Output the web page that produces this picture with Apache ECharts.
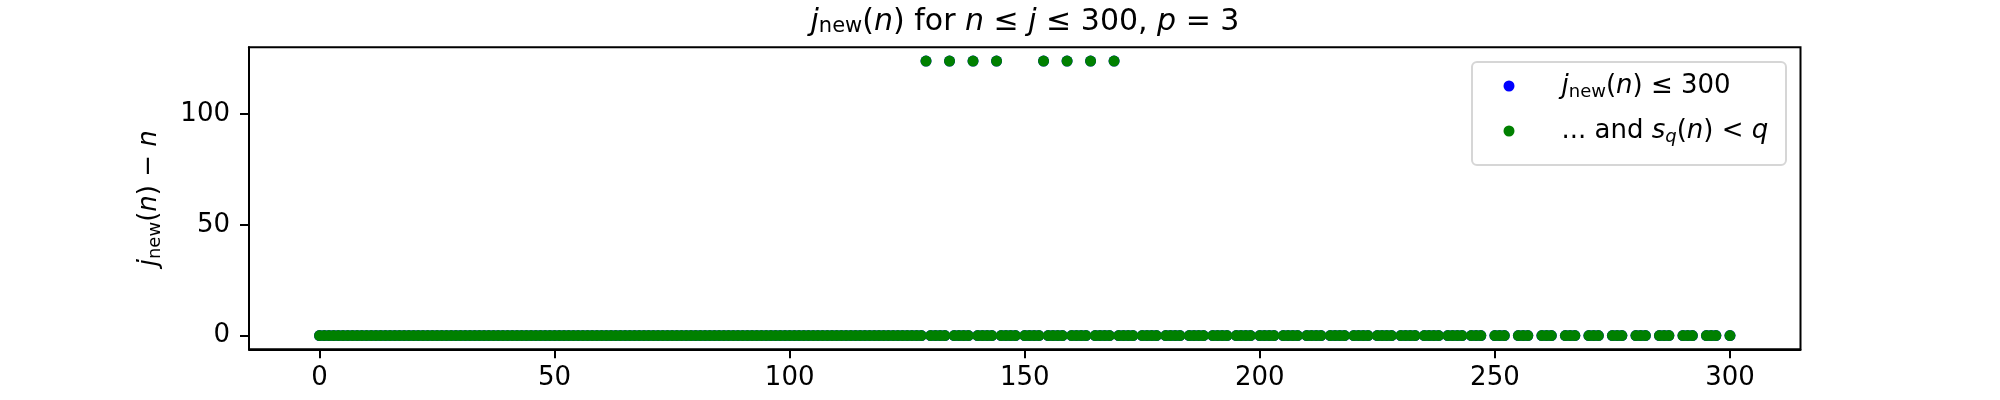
<!DOCTYPE html>
<html>
<head>
<meta charset="utf-8">
<script src="https://cdn.jsdelivr.net/npm/echarts@6/dist/echarts.min.js"></script>
<style>
  html, body { margin: 0; padding: 0; background: #fff; }
  #chart { width: 2000px; height: 400px; }
</style>
</head>
<body>
<div id="chart"></div>
<script>
// n where j_new(n) - n = 0
var zeroOffsetN = [
  0, 1, 2, 3, 4, 5, 6, 7, 8, 9, 10, 11, 12, 13, 14, 15, 16, 17, 18, 19,
  20, 21, 22, 23, 24, 25, 26, 27, 28, 29, 30, 31, 32, 33, 34, 35, 36, 37, 38, 39,
  40, 41, 42, 43, 44, 45, 46, 47, 48, 49, 50, 51, 52, 53, 54, 55, 56, 57, 58, 59,
  60, 61, 62, 63, 64, 65, 66, 67, 68, 69, 70, 71, 72, 73, 74, 75, 76, 77, 78, 79,
  80, 81, 82, 83, 84, 85, 86, 87, 88, 89, 90, 91, 92, 93, 94, 95, 96, 97, 98, 99,
  100, 101, 102, 103, 104, 105, 106, 107, 108, 109, 110, 111, 112, 113, 114, 115,
  116, 117, 118, 119, 120, 121, 122, 123, 124, 125, 126, 127, 128,
  130, 131, 132, 133, 135, 136, 137, 138, 140, 141, 142, 143, 145, 146, 147, 148,
  150, 151, 152, 153, 155, 156, 157, 158, 160, 161, 162, 163, 165, 166, 167, 168,
  170, 171, 172, 173, 175, 176, 177, 178, 180, 181, 182, 183, 185, 186, 187, 188,
  190, 191, 192, 193, 195, 196, 197, 198, 200, 201, 202, 203, 205, 206, 207, 208,
  210, 211, 212, 213, 215, 216, 217, 218, 220, 221, 222, 223, 225, 226, 227, 228,
  230, 231, 232, 233, 235, 236, 237, 238, 240, 241, 242, 243, 245, 246, 247,
  250, 251, 252, 255, 256, 257, 260, 261, 262, 265, 266, 267, 270, 271, 272,
  275, 276, 277, 280, 281, 282, 285, 286, 287, 290, 291, 292, 295, 296, 297, 300
];
// n where j_new(n) - n is large
var liftedN = [129, 134, 139, 144, 154, 159, 164, 169];
var liftedOffset = 124;

var xTicks = [0, 50, 100, 150, 200, 250, 300];
var yTicks = [0, 50, 100];

var seriesNames = ['jnew', 'sq'];

var F = 26;
var FONT = 'DejaVu Sans';
function richStyles(size) {
  return {
    it: { fontFamily: FONT, fontStyle: 'italic', fontSize: size, lineHeight: 30, color: '#000' },
    rm: { fontFamily: FONT, fontSize: size, lineHeight: 30, color: '#000' },
    sub: { fontFamily: FONT, fontSize: Math.round(size * 0.7), lineHeight: 21, verticalAlign: 'bottom', color: '#000' },
    subi: { fontFamily: FONT, fontStyle: 'italic', fontSize: Math.round(size * 0.7), lineHeight: 21, verticalAlign: 'bottom', color: '#000' },
    sp: { width: 42, lineHeight: 30 }
  };
}

var points = zeroOffsetN.map(function (n) { return [n, 0]; })
  .concat(liftedN.map(function (n) { return [n, liftedOffset]; }));

var chart = echarts.init(document.getElementById('chart'));

var option = {
  animation: false,
  backgroundColor: '#fff',
  grid: {
    left: 249, right: 199.5, top: 47.3, bottom: 50.7,
    show: true, borderColor: '#000', borderWidth: 2, backgroundColor: 'transparent'
  },
  xAxis: {
    type: 'value', min: -15, max: 315,
    axisLine: { onZero: false, lineStyle: { color: '#000', width: 2 } },
    axisTick: { length: 9, lineStyle: { color: '#000', width: 2 }, customValues: xTicks },
    axisLabel: { color: '#000', fontFamily: FONT, fontSize: F, margin: 16, customValues: xTicks },
    splitLine: { show: false }
  },
  yAxis: {
    type: 'value', min: -6.2, max: 130.2,
    name: '{it|j}{sub|new}{rm|(}{it|n}{rm|) − }{it|n}',
    nameLocation: 'middle', nameRotate: 90, nameGap: 85,
    nameTextStyle: { rich: richStyles(F) },
    axisLine: { onZero: false, lineStyle: { color: '#000', width: 2 } },
    axisTick: { length: 9, lineStyle: { color: '#000', width: 2 }, customValues: yTicks },
    axisLabel: { color: '#000', fontFamily: FONT, fontSize: F, margin: 19, customValues: yTicks },
    splitLine: { show: false }
  },
  legend: {
    orient: 'vertical', left: 1503.5, top: 73, itemGap: 17,
    itemWidth: 11, itemHeight: 11, padding: 0,
    data: [{ name: 'jnew', icon: 'circle' }, { name: 'sq', icon: 'circle' }],
    formatter: function (name) {
      if (name === 'jnew') return '{sp|}{it|j}{sub|new}{rm|(}{it|n}{rm|) ≤ 300}';
      return '{sp|}{rm|... and }{it|s}{subi|q}{rm|(}{it|n}{rm|) < }{it|q}';
    },
    textStyle: { rich: richStyles(F) }
  },
  graphic: [
    {
      type: 'rect', z: 0, silent: true,
      shape: { x: 1472, y: 62, width: 314, height: 103, r: 5 },
      style: { fill: 'rgba(255,255,255,0.8)', stroke: '#d6d6d6', lineWidth: 2 }
    },
    {
      type: 'text', x: 1025, y: 22,
      style: {
        text: '{it|j}{sub|new}{rm|(}{it|n}{rm|) for }{it|n}{rm| ≤ }{it|j}{rm| ≤ 300, }{it|p}{rm| = 3}',
        rich: richStyles(30),
        align: 'center', verticalAlign: 'middle'
      }
    }
  ],
  series: [
    {
      name: seriesNames[0], type: 'scatter', symbol: 'circle', symbolSize: 11,
      itemStyle: { color: '#0000ff', opacity: 1 }, data: points, z: 2
    },
    {
      name: seriesNames[1], type: 'scatter', symbol: 'circle', symbolSize: 11,
      itemStyle: { color: '#008000', opacity: 1 }, data: points, z: 3
    }
  ]
};
chart.setOption(option);
</script>
</body>
</html>
